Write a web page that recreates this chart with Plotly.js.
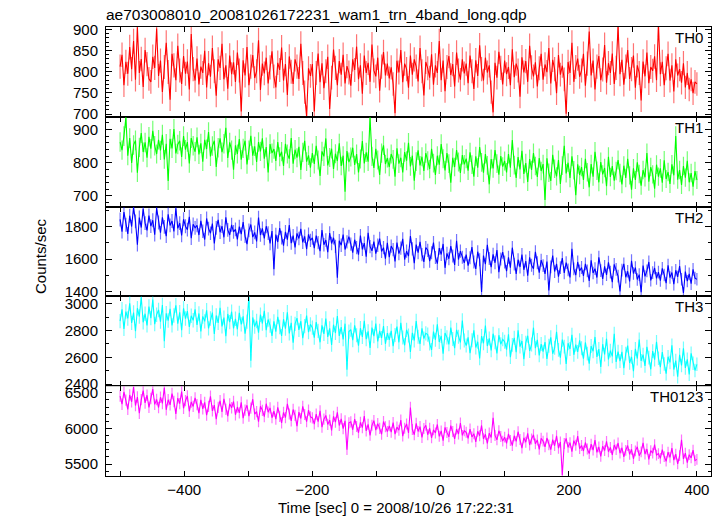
<!DOCTYPE html>
<html>
<head>
<meta charset="utf-8">
<script src="https://cdn.plot.ly/plotly-3.0.1.min.js"></script>
<style>
html,body{margin:0;padding:0;background:#fff;}
#chart{width:723px;height:516px;}
</style>
</head>
<body>
<div id="chart"></div>
<script>
// Time bins (seconds from 2008/10/26 17:22:31)
const timeStart = -500;
const timeStep = 3;

const bandNames = ["TH0", "TH1", "TH2", "TH3", "TH0123"];

const th0 = [
812,840,768,823,795,858,806,872,781,905,797,830,764,851,818,783,776,835,809,902,
790,826,752,811,868,799,734,842,815,780,861,803,771,837,795,824,758,889,806,779,
831,770,812,797,849,763,820,788,856,801,743,829,809,866,782,815,760,838,794,822,
776,845,803,706,827,791,858,768,812,839,785,801,874,757,819,796,833,772,810,848,
789,763,821,804,857,779,818,745,836,800,771,829,812,783,866,797,752,694,808,790,
818,706,797,843,775,820,761,801,835,712,786,852,809,768,825,793,840,772,813,798,
767,829,804,859,782,815,748,838,797,821,776,864,803,789,833,755,812,846,791,819,
784,810,771,702,826,798,851,775,819,806,762,838,793,829,812,777,856,801,744,823,
808,786,841,769,815,797,872,780,826,754,811,837,792,818,765,845,803,781,829,796,
819,773,838,801,759,827,790,862,806,779,833,798,815,752,704,821,786,847,809,770,
826,794,811,768,853,787,819,803,741,834,798,825,776,861,810,789,822,765,808,842,
781,817,799,856,772,828,806,749,839,793,814,782,701,823,797,868,776,811,831,788,
803,842,767,819,895,791,826,758,812,837,780,805,863,774,820,797,843,771,809,907,
794,828,769,812,851,783,806,838,762,815,797,732,824,789,845,773,811,802,836,780,
912,794,823,768,808,842,779,815,753,829,791,806,774,820,763,797,758,782,749,776,
771];

const th1 = [
862,838,880,935,821,874,799,853,867,770,846,889,832,861,815,878,842,896,851,826,
869,837,884,810,857,745,872,843,901,828,855,866,817,880,839,862,798,874,851,833,
876,825,858,803,869,841,892,819,850,866,787,845,873,832,857,905,814,861,838,779,
852,826,871,809,843,866,795,838,881,821,849,802,862,834,873,812,847,771,856,829,
841,805,862,818,833,790,857,826,812,874,797,839,815,848,778,831,866,803,822,785,
829,796,851,808,760,834,819,873,792,816,842,781,827,805,858,790,821,713,835,802,
817,845,793,826,771,811,865,798,831,803,935,819,784,842,808,763,829,852,796,814,
787,826,810,758,843,797,815,771,832,806,860,789,821,746,803,837,792,818,775,829,
806,781,842,799,763,821,794,856,812,777,829,797,740,815,787,838,802,769,823,795,
812,776,831,794,758,819,785,847,801,770,826,792,735,811,783,838,797,764,820,788,
805,771,826,785,868,793,754,817,780,836,766,799,742,811,778,829,790,757,814,775,
796,688,813,770,745,824,782,759,808,736,791,851,768,800,754,819,777,702,795,763,
787,748,812,771,726,796,758,833,776,741,802,765,784,729,818,757,790,746,775,808,
769,735,791,754,812,762,719,783,748,801,766,731,778,756,829,743,787,765,722,794,
758,783,740,807,751,772,736,795,762,880,749,778,733,790,755,806,741,769,728,775,
748];

const th2 = [
1845,1770,1890,1812,1756,1868,1801,1920,1833,1689,1857,1795,1910,1822,1778,1869,1804,1840,1751,1915,
1826,1763,1858,1799,1742,1877,1808,1835,1771,1914,1790,1822,1747,1846,1803,1782,1861,1729,1815,1793,
1808,1749,1836,1772,1721,1851,1789,1760,1820,1697,1793,1842,1766,1804,1735,1858,1781,1749,1812,1768,
1784,1722,1801,1755,1829,1741,1693,1778,1814,1736,1765,1710,1856,1749,1790,1728,1803,1761,1697,1774,
1539,1752,1706,1791,1733,1683,1768,1721,1810,1699,1745,1672,1759,1728,1787,1704,1741,1662,1753,1716,
1731,1668,1745,1702,1650,1780,1689,1718,1643,1761,1697,1732,1679,1486,1714,1686,1752,1660,1707,1739,
1693,1640,1720,1672,1628,1745,1661,1699,1615,1763,1678,1652,1709,1634,1686,1727,1648,1671,1603,1701,
1612,1681,1659,1587,1703,1634,1668,1725,1598,1650,1619,1742,1663,1576,1690,1641,1707,1628,1584,1672,
1655,1588,1640,1702,1611,1573,1668,1629,1694,1547,1636,1603,1681,1620,1565,1714,1598,1650,1612,1577,
1628,1561,1609,1675,1583,1540,1646,1597,1398,1622,1569,1688,1604,1551,1630,1578,1657,1520,1601,1644,
1583,1526,1612,1548,1671,1570,1509,1597,1552,1628,1535,1589,1498,1611,1563,1541,1646,1578,1517,1594,
1560,1509,1586,1408,1553,1622,1524,1571,1493,1548,1607,1516,1579,1535,1488,1664,1541,1502,1583,1528,
1549,1497,1571,1528,1466,1593,1515,1542,1487,1612,1530,1478,1556,1504,1581,1521,1459,1568,1537,1496,
1402,1533,1571,1489,1526,1463,1590,1512,1548,1475,1505,1397,1561,1494,1528,1583,1470,1517,1546,1482,
1521,1468,1544,1503,1452,1563,1487,1518,1446,1532,1491,1557,1476,1392,1524,1465,1510,1449,1538,1484,
1476];

const th3 = [
2870,2958,2812,2941,2890,3003,2857,2933,2795,2966,2904,3048,2861,2925,2838,2979,2892,3030,2847,2918,
2953,2866,2990,2721,2928,2874,2961,2838,2912,2987,2851,2936,2802,2965,2889,2944,2827,2910,2876,2958,
2842,2927,2793,2905,2868,2951,2816,2889,2934,2774,2912,2857,2969,2831,2896,2758,2923,2862,2940,2815,
2887,2809,2931,2846,2905,2776,2866,3052,2575,2897,2829,2871,2784,2918,2852,2946,2803,2882,2837,2759,
2868,2791,2902,2826,2759,2884,2813,2935,2778,2857,2709,2849,2892,2805,2869,2742,2833,2911,2788,2846,
2821,2746,2863,2797,2712,2838,2775,2889,2752,2816,2693,2843,2781,2907,2760,2825,2734,2851,2508,2792,
2806,2728,2839,2765,2687,2817,2752,2873,2735,2794,2670,2822,2758,2851,2719,2797,2744,2833,2701,2781,
2731,2798,2684,2766,2829,2712,2857,2748,2690,2805,2763,2641,2782,2725,2871,2753,2699,2816,2740,2779,
2769,2703,2655,2792,2731,2846,2714,2760,2628,2781,2749,2697,2822,2736,2668,2805,2753,2711,2874,2726,
2688,2749,2631,2727,2801,2673,2716,2592,2758,2705,2836,2684,2741,2652,2776,2713,2629,2765,2698,2734,
2716,2657,2772,2601,2693,2745,2639,2802,2680,2722,2586,2708,2761,2647,2695,2821,2668,2730,2614,2699,
2642,2713,2588,2686,2749,2627,2671,2790,2655,2598,2732,2680,2551,2705,2662,2768,2619,2694,2640,2727,
2668,2590,2711,2627,2553,2684,2645,2752,2603,2662,2529,2698,2621,2739,2584,2650,2607,2776,2566,2643,
2572,2641,2519,2627,2688,2558,2604,2497,2663,2591,2732,2574,2620,2536,2679,2598,2511,2646,2583,2715,
2593,2527,2640,2551,2478,2604,2562,2689,2509,2576,2455,2618,2540,2667,2521,2585,2473,2630,2556,2502,
2548];

const th0123 = [
6455,6340,6512,6398,6268,6470,6375,6580,6322,6441,6213,6405,6530,6358,6466,6297,6421,6552,6338,6407,
6294,6438,6351,6571,6262,6403,6332,6490,6378,6205,6426,6349,6517,6283,6390,6456,6241,6372,6309,6428,
6335,6214,6402,6276,6365,6188,6311,6452,6247,6328,6130,6297,6389,6233,6415,6269,6172,6346,6291,6378,
6192,6301,6219,6368,6145,6258,6326,6173,6284,6410,6201,6237,6094,6312,6255,6166,6347,6228,6289,6150,
6242,6131,6297,6170,6078,6225,6152,6344,6203,6107,6266,6184,6033,6229,6140,6311,6196,6095,6258,6163,
6148,6062,6201,6095,6247,6019,6131,6183,6057,6116,5974,6170,6088,6226,6041,6135,5998,6107,5702,6079,
6093,5982,6131,6027,5940,6086,6012,6175,5965,6058,5903,6044,6110,5978,6068,6001,5919,6097,6025,5956,
6037,5948,6082,5921,6019,5976,6118,5893,6004,6063,5937,6295,5985,5912,6071,5958,6026,5874,5999,6045,
5912,6003,5868,5981,5937,6056,5890,5966,5829,6015,5945,5883,6041,5959,5854,5992,5921,6077,5903,5968,
5946,5862,5991,5881,5927,5813,5960,5898,6042,5855,5919,5789,5935,5874,6150,5902,5841,5968,5886,5823,
5878,5792,5923,5831,5760,5897,5819,5954,5846,5725,5870,5807,5932,5768,5852,5911,5784,5839,5706,5862,
5823,5741,5866,5769,5703,5842,5758,5897,5722,5810,5348,5789,5861,5735,5801,5676,5828,5764,5892,5717,
5761,5684,5803,5712,5648,5779,5697,5837,5665,5742,5609,5751,5690,5819,5673,5733,5628,5768,5704,5796,
5652,5729,5603,5694,5761,5637,5708,5575,5686,5742,5619,5670,5798,5641,5712,5566,5689,5653,5774,5627,
5648,5581,5702,5606,5539,5668,5594,5725,5557,5641,5502,5618,5840,5573,5655,5519,5632,5587,5696,5548,
5566];

const series = [th0, th1, th2, th3, th0123];
const lineColors = ["#ff0000", "#00ff00", "#0000ff", "#00ffff", "#ff00ff"];
const errColors = ["rgba(255,0,0,0.55)", "rgba(0,255,0,0.55)", "rgba(0,0,255,0.55)", "rgba(0,255,255,0.55)", "rgba(255,0,255,0.55)"];

// Axis ticks
const xTickVals = [-500, -400, -300, -200, -100, 0, 100, 200, 300, 400];
const xTickText = ["", "\u2212400", "", "\u2212200", "", "0", "", "200", "", "400"];
const yTickVals = [[700, 750, 800, 850, 900], [700, 800, 900], [1400, 1600, 1800], [2400, 2600, 2800, 3000], [5500, 6000, 6500]];
const yRanges = [[693.5, 905.4], [668, 938], [1371, 1924], [2385, 3054], [5333, 6593]];
const yMinor = [10, 20, 100, 100, 100];
const xRange = [-522, 422];

const FONT = "Liberation Sans, Arial, Helvetica, sans-serif";
const traces = [];
const layout = {
  width: 723, height: 516,
  margin: {l: 106, r: 12, t: 27, b: 40},
  paper_bgcolor: "#fff", plot_bgcolor: "#fff",
  showlegend: false,
  font: {family: FONT, size: 15, color: "#000"},
  title: {text: "ae703008010_20081026172231_wam1_trn_4band_long.qdp",
          x: 0, xref: "paper", xanchor: "left", y: 1 - 15/516, yref: "container", yanchor: "middle",
          font: {family: FONT, size: 15.5, color: "#000"}},
  annotations: []
};

for (let i = 0; i < 5; i++) {
  const n = i + 1;
  const xa = n === 1 ? "x" : "x" + n;
  const ya = n === 1 ? "y" : "y" + n;
  traces.push({
    type: "scatter", mode: "lines",
    x0: timeStart, dx: timeStep, y: series[i],
    xaxis: xa, yaxis: ya,
    line: {color: lineColors[i], width: 1.1},
    error_y: {type: "sqrt", color: errColors[i], thickness: 1.2, width: 0},
    hoverinfo: "skip"
  });
  const top = 1 - i * 0.2, bot = top - 0.2;
  layout["xaxis" + (n === 1 ? "" : n)] = {
    domain: [0, 1], anchor: ya, range: xRange,
    showline: true, linecolor: "#000", linewidth: 1, mirror: "ticks",
    ticks: "inside", ticklen: 5, tickcolor: "#000",
    tickmode: "array", tickvals: xTickVals, ticktext: xTickText,
    showticklabels: n === 5, showgrid: false, zeroline: false,
    tickfont: {family: FONT, size: 15, color: "#000"}
  };
  layout["yaxis" + (n === 1 ? "" : n)] = {
    domain: [bot, top], anchor: xa, range: yRanges[i],
    showline: true, linecolor: "#000", linewidth: 1, mirror: "ticks",
    ticks: "inside", ticklen: 6, tickcolor: "#000",
    tickmode: "array", tickvals: yTickVals[i],
    minor: {dtick: yMinor[i], ticks: "inside", ticklen: 3, tickcolor: "#000", showgrid: false},
    showgrid: false, zeroline: false,
    ticklabelstandoff: 4,
    tickfont: {family: FONT, size: 15, color: "#000"}
  };
  layout.annotations.push({
    text: bandNames[i], xref: "paper", yref: "paper",
    x: 0.99, y: top, xanchor: "right", yanchor: "top", yshift: 0,
    showarrow: false, font: {family: FONT, size: 15, color: "#000"}
  });
}
layout.annotations.push({
  text: "Counts/sec", xref: "paper", yref: "paper", x: (41 - 106) / 605, y: 0.49,
  xanchor: "center", yanchor: "middle", textangle: -90, showarrow: false,
  font: {family: FONT, size: 15, color: "#000"}
});
layout.annotations.push({
  text: "Time [sec] 0 = 2008/10/26 17:22:31", xref: "paper", yref: "paper",
  x: (396 - 106) / 605, y: (476 - 507) / 449, xanchor: "center", yanchor: "middle",
  showarrow: false, font: {family: FONT, size: 15, color: "#000"}
});

Plotly.newPlot("chart", traces, layout, {staticPlot: true, displayModeBar: false});
</script>
</body>
</html>
